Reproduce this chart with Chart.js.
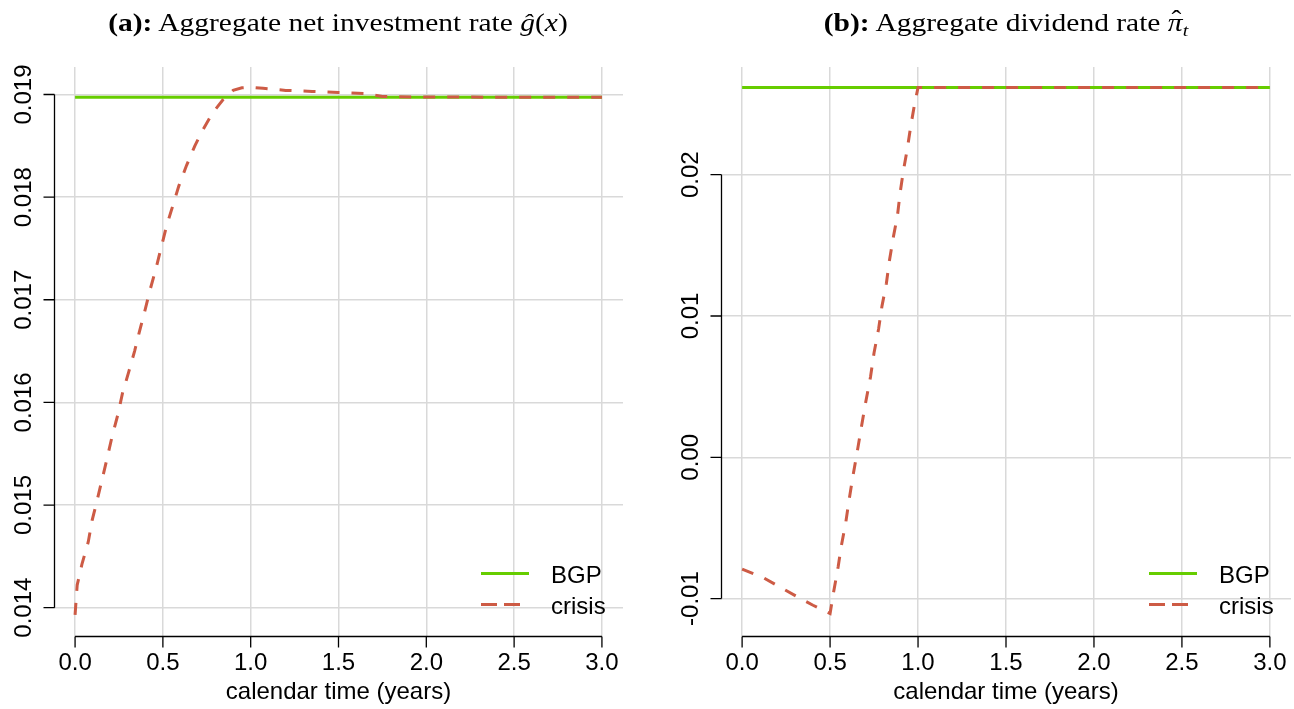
<!DOCTYPE html>
<html><head><meta charset="utf-8">
<script src="https://cdn.jsdelivr.net/npm/chart.js@4.4.1/dist/chart.umd.min.js"></script>
<style>
html,body{margin:0;padding:0;background:#fff;}
#wrap{position:relative;width:1294px;height:709px;overflow:hidden;background:#fff;}
.panel{position:absolute;top:0;width:647px;height:709px;}
.title{position:absolute;top:10px;font-family:"Liberation Serif","Times New Roman",serif;font-size:25px;line-height:25px;white-space:nowrap;color:#000;transform:translateX(-50%) scaleX(1.18);}
.title sub{font-size:17px;vertical-align:-5px;line-height:0;}
.hat{position:relative;display:inline-block;}
.hat .h{position:absolute;left:3px;top:-3px;font-style:normal;}
</style></head><body>
<div id="wrap">
<div class="panel" style="left:0"><canvas id="cA"></canvas></div>
<div class="panel" style="left:647px"><canvas id="cB"></canvas></div>
<div class="title" style="left:338px"><b>(a):</b> Aggregate net investment rate <i>ĝ</i>(<i>x</i>)</div>
<div class="title" style="left:1006px"><b>(b):</b> Aggregate dividend rate <span class="hat"><i>π</i><span class="h">ˆ</span></span><sub><i>t</i></sub></div>
</div>
<script>
// ---- data ----
const xTickValues = [0, 0.5, 1, 1.5, 2, 2.5, 3];
const xTickLabels = ['0.0', '0.5', '1.0', '1.5', '2.0', '2.5', '3.0'];
const xAxisTitle = 'calendar time (years)';
const seriesNames = ['BGP', 'crisis'];

const yTickValuesA = [0.014, 0.015, 0.016, 0.017, 0.018, 0.019];
const yTickLabelsA = ['0.014', '0.015', '0.016', '0.017', '0.018', '0.019'];
const yTickValuesB = [-0.01, 0, 0.01, 0.02];
const yTickLabelsB = ['-0.01', '0.00', '0.01', '0.02'];

const bgpTimeA = [0, 3];
const bgpA = [0.018974, 0.018974];
const crisisTimeA = [0.000, 0.012, 0.040, 0.075, 0.097, 0.126, 0.154, 0.183, 0.211, 0.245, 0.270, 0.306, 0.339, 0.365, 0.397, 0.426, 0.460, 0.489, 0.521, 0.559, 0.591, 0.635, 0.682, 0.726, 0.783, 0.843, 0.900, 0.950, 1.000, 1.070, 1.200, 1.350, 1.500, 1.650, 1.750, 2.000, 2.500, 3.000];
const crisisA = [0.01393, 0.01422, 0.01443, 0.01464, 0.01485, 0.01505, 0.01525, 0.01546, 0.01567, 0.01589, 0.01609, 0.01630, 0.01650, 0.01668, 0.01689, 0.01709, 0.01730, 0.01750, 0.01772, 0.01793, 0.01811, 0.01831, 0.01850, 0.01865, 0.01882, 0.01895, 0.01904, 0.019065, 0.01907, 0.01906, 0.01904, 0.01903, 0.01902, 0.01901, 0.01898, 0.018975, 0.018974, 0.018974];

const bgpTimeB = [0, 3];
const bgpB = [0.02617, 0.02617];
const crisisTimeB = [0.000, 0.120, 0.214, 0.309, 0.403, 0.500, 0.519, 0.546, 0.565, 0.590, 0.608, 0.631, 0.656, 0.679, 0.703, 0.730, 0.750, 0.776, 0.795, 0.820, 0.837, 0.860, 0.883, 0.898, 0.917, 0.940, 0.958, 0.979, 1.000, 3.000];
const crisisB = [-0.00792, -0.00851, -0.00918, -0.00984, -0.01047, -0.01105, -0.00962, -0.00774, -0.00620, -0.00455, -0.00302, -0.00125, 0.00052, 0.00221, 0.00393, 0.00570, 0.00740, 0.00910, 0.01070, 0.01230, 0.01390, 0.01560, 0.01710, 0.01870, 0.02030, 0.02190, 0.02340, 0.02490, 0.02617, 0.02617];

// ---- styles ----
const GREEN = '#66CD00';
const RED = '#CD5B45';
const FONT = '24px "Liberation Sans", Arial, sans-serif';

const rAxes = {
  id: 'rAxes',
  afterDraw(chart, args, o) {
    const ctx = chart.ctx, a = chart.chartArea, x = chart.scales.x, y = chart.scales.y;
    ctx.save();
    ctx.strokeStyle = '#000'; ctx.fillStyle = '#000'; ctx.lineWidth = 1.3;
    ctx.font = FONT;
    const ax = Math.round(a.left) + 0.5;
    ctx.beginPath();
    ctx.moveTo(ax, y.getPixelForValue(o.yTicks[0]));
    ctx.lineTo(ax, y.getPixelForValue(o.yTicks[o.yTicks.length - 1]));
    o.yTicks.forEach(v => { const p = y.getPixelForValue(v); ctx.moveTo(ax, p); ctx.lineTo(ax - 11, p); });
    const ay = Math.round(a.bottom) + 0.5;
    ctx.moveTo(x.getPixelForValue(xTickValues[0]), ay);
    ctx.lineTo(x.getPixelForValue(xTickValues[xTickValues.length - 1]), ay);
    xTickValues.forEach(v => { const p = x.getPixelForValue(v); ctx.moveTo(p, ay); ctx.lineTo(p, ay + 11); });
    ctx.stroke();
    ctx.textAlign = 'center'; ctx.textBaseline = 'middle';
    o.yTicks.forEach((v, i) => {
      const p = y.getPixelForValue(v);
      ctx.save(); ctx.translate(ax - 30, p); ctx.rotate(-Math.PI / 2);
      ctx.fillText(o.yLabels[i], 0, 0); ctx.restore();
    });
    xTickValues.forEach((v, i) => ctx.fillText(xTickLabels[i], x.getPixelForValue(v), a.bottom + 27));
    ctx.fillText(xAxisTitle, (a.left + a.right) / 2, a.bottom + 56);
    const x0 = a.right - 142;
    const rows = [{ ds: chart.data.datasets[1], y: a.bottom - 62.5, len: 48 }, { ds: chart.data.datasets[0], y: a.bottom - 31.5, len: 39 }];
    rows.forEach(r => {
      ctx.save();
      ctx.strokeStyle = r.ds.borderColor; ctx.lineWidth = r.ds.borderWidth;
      ctx.setLineDash(r.ds.legendDash || []);
      ctx.beginPath(); ctx.moveTo(x0, r.y); ctx.lineTo(x0 + r.len, r.y); ctx.stroke();
      ctx.restore();
      ctx.textAlign = 'left';
      ctx.fillText(r.ds.label, x0 + 70, r.y + 2.5);
    });
    ctx.restore();
  }
};

function makeChart(id, cfg) {
  const gridCol = '#d9d9d9';
  return new Chart(document.getElementById(id), {
    type: 'line',
    data: {
      datasets: [
        { label: seriesNames[1], data: cfg.crisisT.map((t, i) => ({ x: t, y: cfg.crisisV[i] })),
          borderColor: RED, borderWidth: 3, borderDash: [12, 12], borderCapStyle: 'butt',
          pointRadius: 0, tension: 0, fill: false, order: 0, legendDash: [16, 7] },
        { label: seriesNames[0], data: cfg.bgpT.map((t, i) => ({ x: t, y: cfg.bgpV[i] })),
          borderColor: GREEN, borderWidth: 3, pointRadius: 0, tension: 0, fill: false, order: 1 }
      ]
    },
    options: {
      responsive: true, maintainAspectRatio: false, animation: false, devicePixelRatio: 1,
      layout: { padding: cfg.pad },
      plugins: { legend: { display: false }, tooltip: { enabled: false },
        rAxes: { yTicks: cfg.yTicks, yLabels: cfg.yLabels } },
      scales: {
        x: { type: 'linear', min: -0.12, max: 3.12,
          afterBuildTicks: s => { s.ticks = xTickValues.map(v => ({ value: v })); },
          afterFit: s => { s.height = 0; },
          ticks: { display: false }, border: { display: false },
          grid: { color: gridCol, lineWidth: 1.5, drawTicks: false } },
        y: { type: 'linear', min: cfg.yMin, max: cfg.yMax,
          afterBuildTicks: s => { s.ticks = cfg.yTicks.map(v => ({ value: v })); },
          afterFit: s => { s.width = 0; },
          ticks: { display: false }, border: { display: false },
          grid: { color: gridCol, lineWidth: 1.5, drawTicks: false } }
      }
    },
    plugins: [rAxes]
  });
}

makeChart('cA', { crisisT: crisisTimeA, crisisV: crisisA, bgpT: bgpTimeA, bgpV: bgpA,
  yTicks: yTickValuesA, yLabels: yTickLabelsA, yMin: 0.013724, yMax: 0.019268,
  pad: { left: 54, right: 24, top: 67, bottom: 73 } });
makeChart('cB', { crisisT: crisisTimeB, crisisV: crisisB, bgpT: bgpTimeB, bgpV: bgpB,
  yTicks: yTickValuesB, yLabels: yTickLabelsB, yMin: -0.012647, yMax: 0.027622,
  pad: { left: 74, right: 3, top: 67, bottom: 73 } });
</script>
</body></html>
